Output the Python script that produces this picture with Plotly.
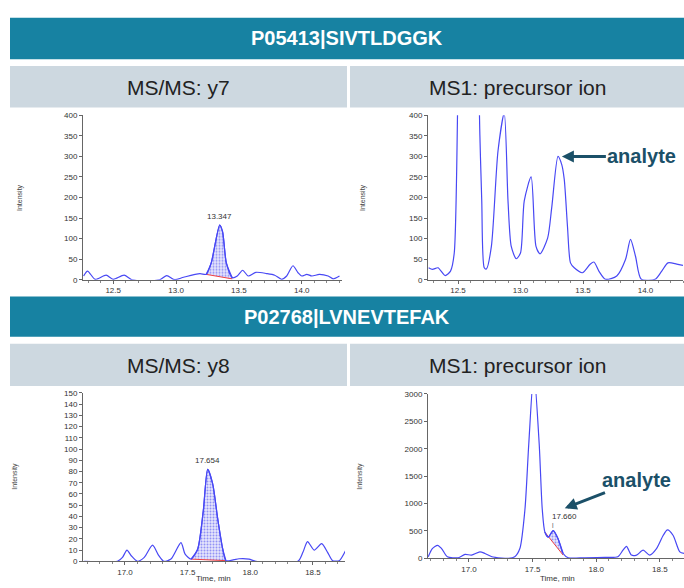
import plotly.graph_objects as go

# ---------------- data ----------------
tl_time = [12.265, 12.296, 12.357, 12.444, 12.50, 12.587, 12.648, 12.87, 12.926, 12.99, 13.06, 13.19,
           13.24, 13.28, 13.347, 13.37, 13.40, 13.447, 13.487, 13.53, 13.574, 13.635, 13.72, 13.785,
           13.84, 13.88, 13.93, 13.97, 14.0, 14.04, 14.08, 14.14, 14.21, 14.25, 14.30]
tl_int = [9, 21, 1, 11, 1, 11, 0, 0, 10, 0, 6, 15,
          13, 41, 133, 117, 41, 5, 9, 23, 9, 18, 15, 11,
          1, 9, 34, 17, 9, 13, 9, 13, 9, 2, 9]
tl_win = [13.24, 13.447]
tl_base = [13, 2]

tr_time = [12.265, 12.296, 12.34, 12.397, 12.44, 12.47, 12.52, 12.60, 12.675, 12.69, 12.71, 12.727,
           12.767, 12.82, 12.87, 12.90, 12.926, 12.966, 13.0, 13.03, 13.085, 13.124, 13.156,
           13.217, 13.25, 13.30, 13.33, 13.35, 13.376, 13.40, 13.43, 13.495, 13.555, 13.587, 13.627,
           13.68, 13.77, 13.84, 13.88, 13.92, 13.966, 14.077, 14.13, 14.18, 14.25, 14.30]
tr_int = [29, 25, 29, 10, 21, 65, 900, 1400, 352, 192, 29, 26,
          81, 313, 405, 192, 81, 51, 65, 192, 250, 81, 63,
          101, 176, 300, 280, 244, 129, 41, 29, 17, 37, 43, 21,
          1, 9, 49, 98, 57, 1, 1, 21, 41, 38, 35]

bl_time = [16.675, 16.94, 16.98, 17.016, 17.05, 17.10, 17.154, 17.22, 17.27, 17.31, 17.367, 17.447,
           17.48, 17.527, 17.58, 17.625, 17.66, 17.70, 17.74, 17.78, 17.806, 17.87, 17.91, 17.99,
           18.045, 18.38, 18.42, 18.457, 18.51, 18.57, 18.617, 18.657, 18.71, 18.76]
bl_int = [0, 0, 3.5, 10, 5, 0, 3.5, 14.4, 5, 0, 2, 16.7,
          6.4, 2, 10.8, 45, 82, 69, 38, 11, 0.6, 1.5, 2.3, 2,
          0, 0, 8, 17.6, 10, 15.8, 8, 0.6, 0.6, 9.4]
bl_win = [17.527, 17.806]
bl_base = [2, 0.6]

br_time = [16.68, 16.712, 16.754, 16.785, 16.83, 16.916, 16.969, 17.02, 17.086, 17.126, 17.18, 17.256,
           17.31, 17.36, 17.40, 17.44, 17.47, 17.51, 17.552, 17.576, 17.597, 17.623, 17.662, 17.70,
           17.74, 17.78, 17.91, 18.07, 18.17, 18.21, 18.238, 18.277, 18.317, 18.369, 18.42, 18.474,
           18.526, 18.56, 18.605, 18.657, 18.696]
br_int = [30, 179, 239, 179, 30, 12, 72, 60, 119, 89, 30, 6,
          0, 30, 179, 895, 2087, 3400, 2087, 895, 477, 388, 507, 358,
          89, 12, 12, 18, 30, 149, 220, 60, 60, 149, 60, 179,
          417, 519, 417, 119, 89]
br_win = [17.597, 17.74]
br_base = [477, 60]

peak_labels = {"tl": (13.347, 133, "13.347"), "bl": (17.66, 82, "17.654"), "br": (17.662, 507, "17.660")}
titles = ["P05413|SIVTLDGGK", "P02768|LVNEVTEFAK"]
subtitles = [["MS/MS: y7", "MS1: precursor ion"], ["MS/MS: y8", "MS1: precursor ion"]]

# ---------------- layout helpers ----------------
W, H = 684, 588
def px(x): return x / W
def py(y): return 1 - y / H

LINE = "#4848f4"
TEAL = "#1782a2"
SUB = "#cdd8e0"
DARK = "#1b5068"
FONT = "Liberation Sans"

fig = go.Figure()

panels = [
    ("tl", tl_time, tl_int, "x", "y", tl_win, tl_base),
    ("tr", tr_time, tr_int, "x2", "y2", None, None),
    ("bl", bl_time, bl_int, "x3", "y3", bl_win, bl_base),
    ("br", br_time, br_int, "x4", "y4", br_win, br_base),
]

for name, t, v, xa, ya, win, base in panels:
    if win is not None:
        ft = [x for x in t if win[0] <= x <= win[1]]
        fv = [v[t.index(x)] for x in ft]
        fig.add_trace(go.Scatter(x=win, y=base, xaxis=xa, yaxis=ya, mode="lines",
                                 line=dict(color="#f04040", width=1), showlegend=False,
                                 hoverinfo="skip"))
        fig.add_trace(go.Scatter(x=ft, y=fv, xaxis=xa, yaxis=ya, mode="lines",
                                 line=dict(color=LINE, width=1.2, shape="spline", smoothing=0.7),
                                 fill="tonexty",
                                 fillpattern=dict(shape=".", fgcolor="#3a3af0", bgcolor="#e6e6fb",
                                                  size=3, solidity=0.35),
                                 showlegend=False, hoverinfo="skip"))
    fig.add_trace(go.Scatter(x=t, y=v, xaxis=xa, yaxis=ya, mode="lines",
                             line=dict(color=LINE, width=1.2, shape="spline", smoothing=0.7),
                             showlegend=False))

axis_common = dict(showline=True, linecolor="#666", linewidth=1, ticks="outside", ticklen=3,
                   tickcolor="#666", tickfont=dict(size=8, color="#333", family=FONT),
                   showgrid=False, zeroline=False)
xminor = dict(ticks="outside", ticklen=2, tickcolor="#888", dtick=0.1)

fig.update_layout(
    width=W, height=H, margin=dict(l=0, r=0, t=0, b=0),
    paper_bgcolor="white", plot_bgcolor="white", showlegend=False,
    xaxis=dict(domain=[px(83), px(342)], range=[12.26, 14.32], anchor="y", dtick=0.5, tick0=12.5,
               tickformat=".1f", minor=xminor, **axis_common),
    yaxis=dict(domain=[py(280), py(113)], range=[0, 400], anchor="x", dtick=50, **axis_common),
    xaxis2=dict(domain=[px(428), px(683)], range=[12.26, 14.3], anchor="y2", dtick=0.5, tick0=12.5,
                tickformat=".1f", minor=xminor, **axis_common),
    yaxis2=dict(domain=[py(280), py(113)], range=[0, 400], anchor="x2", dtick=50, **axis_common),
    xaxis3=dict(domain=[px(83), px(345)], range=[16.665, 18.756], anchor="y3", dtick=0.5, tick0=17.0,
                tickformat=".1f", minor=xminor, **axis_common),
    yaxis3=dict(domain=[py(566), py(395)], range=[0, 150], anchor="x3", dtick=10, **axis_common),
    xaxis4=dict(domain=[px(428), px(684)], range=[16.678, 18.69], anchor="y4", dtick=0.5, tick0=17.0,
                tickformat=".1f", minor=xminor, **axis_common),
    yaxis4=dict(domain=[py(563), py(396)], range=[0, 3000], anchor="x4", dtick=500, **axis_common),
)

shapes = []
annotations = []
def pann(x, y, text, size, color, **kw):
    d = dict(xref="paper", yref="paper", x=px(x), y=py(y), text=text, showarrow=False,
             font=dict(size=size, color=color, family=FONT), xanchor="center", yanchor="middle")
    d.update(kw)
    annotations.append(d)

for i, (y0, y1, s0, s1) in enumerate([(14, 56, 63, 105), (297, 338, 345, 388)]):
    shapes.append(dict(type="rect", xref="paper", yref="paper", x0=px(10), x1=1, y0=py(y1), y1=py(y0),
                       fillcolor=TEAL, line=dict(width=0), layer="below"))
    shapes.append(dict(type="rect", xref="paper", yref="paper", x0=px(10), x1=px(347), y0=py(s1), y1=py(s0),
                       fillcolor=SUB, line=dict(width=0), layer="below"))
    shapes.append(dict(type="rect", xref="paper", yref="paper", x0=px(350), x1=1, y0=py(s1), y1=py(s0),
                       fillcolor=SUB, line=dict(width=0), layer="below"))
    pann(347, (y0 + y1) / 2, "<b>%s</b>" % titles[i], 20, "white")
    pann(178, (s0 + s1) / 2 + 1, subtitles[i][0], 21, "#222")
    pann(517, (s0 + s1) / 2 + 1, subtitles[i][1], 21, "#222")

# y-axis titles
for xp, yp in [(20, 197), (363, 197), (15, 480), (360, 480)]:
    pann(xp, yp, "Intensity", 7, "#444", textangle=-90)
# x-axis titles
for xp in [213, 557]:
    pann(xp, 583, "Time, min", 8, "#333")

# peak labels
px_, py_, lab = peak_labels["tl"]
annotations.append(dict(xref="x", yref="y", x=px_, y=py_, text=lab, showarrow=False, yshift=9,
                        yanchor="middle", font=dict(size=8, color="#333", family=FONT)))
px_, py_, lab = peak_labels["bl"]
annotations.append(dict(xref="x3", yref="y3", x=px_, y=py_, text=lab, showarrow=False, yshift=9,
                        yanchor="middle", font=dict(size=8, color="#333", family=FONT)))
px_, py_, lab = peak_labels["br"]
annotations.append(dict(xref="x4", yref="y4", x=px_, y=py_, text="|", showarrow=False, yshift=6,
                        yanchor="middle", font=dict(size=6, color="#333", family=FONT)))
annotations.append(dict(xref="x4", yref="y4", x=px_, y=py_, text=lab, showarrow=False, yshift=14,
                        yanchor="middle", xanchor="left", xshift=-3,
                        font=dict(size=8, color="#333", family=FONT)))

# analyte arrows
annotations.append(dict(xref="x2", yref="y2", x=13.315, y=300, text="<b>analyte</b>", showarrow=True,
                        ax=82, ay=0, arrowhead=2, arrowsize=0.8, arrowwidth=3, arrowcolor=DARK, standoff=2,
                        font=dict(size=20, color=DARK, family=FONT)))
annotations.append(dict(xref="x4", yref="y4", x=17.738, y=900, text="<b>analyte</b>", showarrow=True,
                        ax=74, ay=-29, arrowhead=2, arrowsize=0.8, arrowwidth=3, arrowcolor=DARK, standoff=2,
                        font=dict(size=20, color=DARK, family=FONT)))

fig.update_layout(shapes=shapes, annotations=annotations)
fig.write_html("out.html")
